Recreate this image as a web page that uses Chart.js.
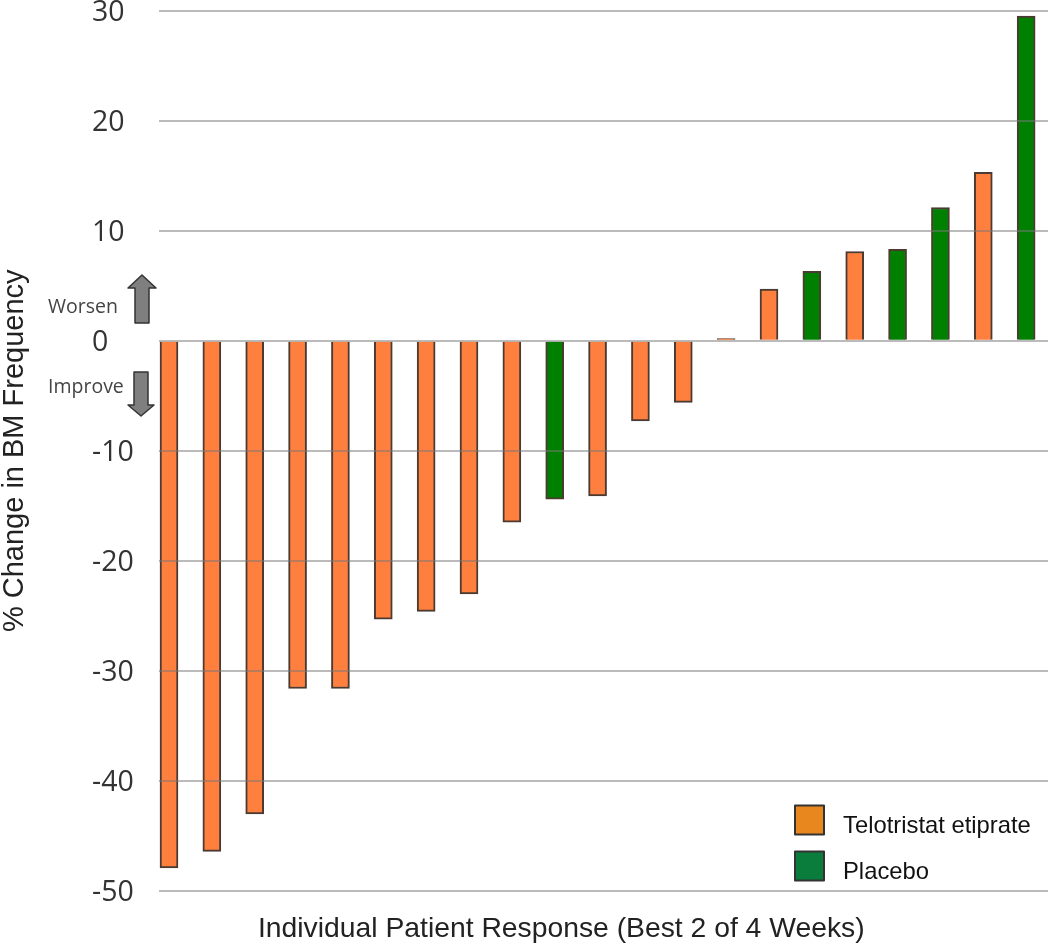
<!DOCTYPE html>
<html>
<head>
<meta charset="utf-8">
<title>Individual Patient Response</title>
<script src="https://cdn.jsdelivr.net/npm/chart.js@4"></script>
<style>
    html, body { margin: 0; padding: 0; background: #fff; }
    canvas { display: block; }
</style>
</head>
<body>
<canvas id="chart" width="1050" height="945"></canvas>
<script>
const patients = [1, 2, 3, 4, 5, 6, 7, 8, 9, 10, 11, 12, 13, 14, 15, 16, 17, 18, 19, 20, 21];
const telotristat = [-47.9, -46.4, -43.0, -31.6, -31.6, -25.3, -24.6, -23.0, -16.5, null, -14.1, -7.3, -5.6, 0.2, 4.7, null, 8.1, null, null, 15.3, null];
const placebo = [null, null, null, null, null, null, null, null, null, -14.4, null, null, null, null, null, 6.3, null, 8.3, 12.1, null, 29.5];
const yTicks = [30, 20, 10, 0, -10, -20, -30, -40, -50];
const legendNames = ['Telotristat etiprate', 'Placebo'];
const legendColors = ['#E8871E', '#0A7D3C'];

function points(values) {
    return patients.map((p, i) => ({ x: p, y: values[i] }));
}

// arrows, small notes, x title and the legend sit at fixed spots in the picture
const extras = {
    id: 'extras',
    afterDraw(chart) {
        const ctx = chart.ctx;
        ctx.save();

        ctx.fillStyle = '#7f7f7f';
        ctx.strokeStyle = '#333';
        ctx.lineWidth = 1.5;
        ctx.lineJoin = 'round';
        arrow(ctx, [[142, 275], [156, 288], [149, 288], [149, 323], [135, 323], [135, 288], [128, 288]]);
        arrow(ctx, [[141, 416], [154, 405], [148, 405], [148, 372], [134, 372], [134, 405], [128, 405]]);

        ctx.textBaseline = 'middle';
        ctx.textAlign = 'left';
        ctx.fillStyle = '#444';
        ctx.font = '19.5px "Open Sans"';
        ctx.fillText('Worsen', 48, 307.5);
        ctx.fillText('Improve', 48, 387.5);

        ctx.fillStyle = '#222';
        ctx.font = '28.3px "Liberation Sans"';
        ctx.fillText('Individual Patient Response (Best 2 of 4 Weeks)', 258, 929);

        ctx.font = '23.8px "Liberation Sans"';
        legendNames.forEach((name, i) => {
            const top = 805.5 + i * 46;
            ctx.fillStyle = legendColors[i];
            ctx.strokeStyle = '#333';
            ctx.lineWidth = 2;
            ctx.fillRect(795, top, 29, 29);
            ctx.strokeRect(795, top, 29, 29);
            ctx.fillStyle = '#111';
            ctx.fillText(name, 843, top + 21);
        });
        ctx.restore();
    }
};

function arrow(ctx, pts) {
    ctx.beginPath();
    pts.forEach((p, i) => i ? ctx.lineTo(p[0], p[1]) : ctx.moveTo(p[0], p[1]));
    ctx.closePath();
    ctx.fill();
    ctx.stroke();
}

const barStyle = { barThickness: 18, borderWidth: 2, borderColor: '#4a3a30' };

new Chart(document.getElementById('chart'), {
    type: 'bar',
    data: {
        datasets: [
            { label: legendNames[0], data: points(telotristat), backgroundColor: '#FF7F3F', ...barStyle },
            { label: legendNames[1], data: points(placebo), backgroundColor: '#008000', ...barStyle }
        ]
    },
    plugins: [extras],
    options: {
        responsive: false,
        animation: false,
        devicePixelRatio: 1,
        layout: { padding: { top: 10.5, right: 2, bottom: 54, left: 92 } },
        plugins: { legend: { display: false }, tooltip: { enabled: false } },
        scales: {
            x: {
                type: 'linear',
                display: false,
                offset: false,
                stacked: true,
                min: 0.755,
                max: 21.51
            },
            y: {
                stacked: true,
                min: -50,
                max: 30,
                afterFit(scale) {
                    scale.width = 66.5;
                    scale.paddingTop = 0;
                    scale.paddingBottom = 0;
                },
                afterBuildTicks(scale) { scale.ticks = yTicks.map(v => ({ value: v })); },
                border: { display: false },
                grid: { z: 1, color: 'rgba(120,120,120,0.5)', lineWidth: 2, drawTicks: false },
                ticks: {
                    crossAlign: 'far',
                    padding: 23,
                    color: '#333',
                    // empty first line with a small line height nudges the digits down a little
                    callback: v => ['', String(v)],
                    font: { family: '"Open Sans"', size: 28.5, lineHeight: 0.15 }
                },
                title: {
                    display: true,
                    text: '% Change in BM Frequency',
                    color: '#222',
                    padding: { top: -94, bottom: 0 },
                    font: { family: '"Liberation Sans"', size: 29 }
                }
            }
        }
    }
});
</script>
</body>
</html>
